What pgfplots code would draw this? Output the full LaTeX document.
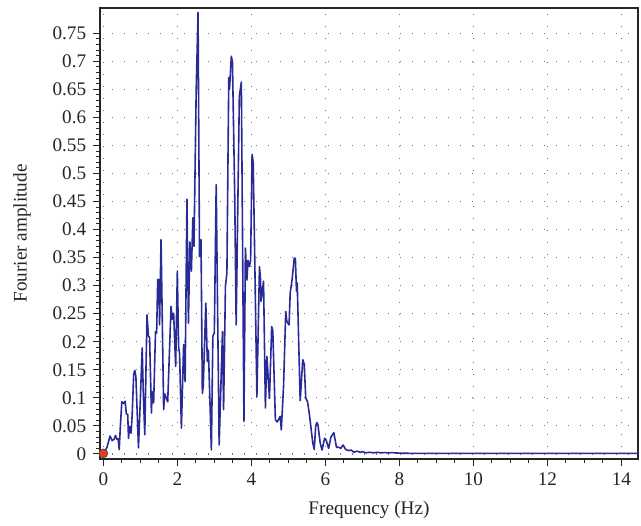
\documentclass[border=0pt]{standalone}
\usepackage{pgfplots}
\pgfplotsset{compat=1.18}
\usepackage{fontspec}
\setmainfont{Liberation Serif}
\definecolor{specblue}{RGB}{40,42,150}
\definecolor{dotred}{RGB}{230,60,30}
\begin{document}
\fontsize{9.6}{11.5}\selectfont
\begin{tikzpicture}
\begin{axis}[
  name=ax,
  scale only axis,
  width=269pt, height=225.5pt,
  xmin=-0.09, xmax=14.45,
  ymin=-0.009, ymax=0.795,
  xtick={0,2,4,6,8,10,12,14},
  minor x tick num=3,
  ytick={0,0.05,0.1,0.15,0.2,0.25,0.3,0.35,0.4,0.45,0.5,0.55,0.6,0.65,0.7,0.75},
  yticklabels={0,0.05,0.1,0.15,0.2,0.25,0.3,0.35,0.4,0.45,0.5,0.55,0.6,0.65,0.7,0.75},
  minor y tick num=4,
  tick align=outside,
  major tick length=3.5pt,
  minor tick length=2pt,
  xtick pos=bottom, ytick pos=left,
  /pgf/number format/assume math mode=true,
  tick label style={font=\fontsize{9.6}{11.5}\selectfont, text=black!85},
  label style={font=\fontsize{9.6}{11.5}\selectfont, text=black!85},
  axis line style={black!85, line width=0.6pt},
  every tick/.style={black!85, line width=0.5pt},
  grid=major,
  major grid style={gray!90!black, line width=0.55pt, dash pattern=on 0.55pt off 5.45pt},
  xlabel={Frequency (Hz)},
  ylabel={Fourier amplitude},
  xlabel style={at={(axis description cs:0.5,0)}, anchor=center, yshift=-25.5pt},
  ylabel style={at={(axis description cs:-0.145,0.5)}, anchor=center},
  clip=false,
]
\addplot[specblue, line width=0.8pt, line join=round, no marks] coordinates {
(0.02,0.002) (0.1,0.012) (0.18,0.032) (0.24,0.024) (0.29,0.026) (0.33,0.033)
(0.37,0.026) (0.40,0.027) (0.43,0.008) (0.46,0.049) (0.50,0.093) (0.55,0.09)
(0.59,0.094) (0.62,0.072) (0.66,0.07) (0.68,0.028) (0.71,0.049) (0.75,0.037)
(0.78,0.07) (0.82,0.141) (0.85,0.149) (0.88,0.138) (0.95,0.011) (1.0,0.096)
(1.05,0.189) (1.08,0.11) (1.12,0.034) (1.18,0.248) (1.22,0.21) (1.25,0.208)
(1.30,0.073) (1.32,0.111) (1.36,0.091) (1.41,0.218) (1.44,0.215) (1.47,0.311)
(1.50,0.311) (1.52,0.23) (1.56,0.382) (1.63,0.079) (1.66,0.107) (1.70,0.1)
(1.74,0.093) (1.83,0.263) (1.86,0.24) (1.90,0.251) (1.955,0.156) (2.0,0.326)
(2.035,0.19) (2.06,0.18) (2.11,0.046) (2.17,0.195) (2.21,0.129) (2.26,0.454)
(2.30,0.233) (2.34,0.378) (2.38,0.326) (2.42,0.421) (2.45,0.37) (2.51,0.65)
(2.56,0.787) (2.60,0.352) (2.64,0.382) (2.676,0.108) (2.70,0.12) (2.77,0.269)
(2.81,0.165) (2.84,0.185) (2.92,0.007) (2.96,0.21) (3.0,0.216) (3.05,0.48)
(3.13,0.016) (3.22,0.218) (3.25,0.079) (3.30,0.299) (3.34,0.323) (3.39,0.671)
(3.41,0.65) (3.46,0.709) (3.49,0.698) (3.55,0.466) (3.59,0.23) (3.676,0.638)
(3.73,0.663) (3.80,0.058) (3.84,0.367) (3.88,0.31) (3.91,0.345) (3.95,0.334)
(3.98,0.345) (4.02,0.534) (4.05,0.52) (4.08,0.4) (4.15,0.102) (4.22,0.334)
(4.25,0.31) (4.26,0.272) (4.33,0.308) (4.38,0.082) (4.42,0.174) (4.49,0.099)
(4.55,0.227) (4.58,0.22) (4.65,0.061) (4.70,0.057) (4.78,0.067) (4.81,0.043)
(4.87,0.12) (4.93,0.254) (4.96,0.236) (5.02,0.23) (5.05,0.287) (5.10,0.31)
(5.16,0.349) (5.19,0.349) (5.22,0.290) (5.24,0.305) (5.32,0.095) (5.39,0.168)
(5.43,0.16) (5.47,0.1) (5.52,0.093) (5.57,0.07) (5.66,0.02) (5.70,0.008)
(5.74,0.05) (5.77,0.056) (5.80,0.052) (5.86,0.02) (5.91,0.007) (5.98,0.028)
(6.02,0.025) (6.09,0.01) (6.15,0.03) (6.23,0.038) (6.30,0.012) (6.36,0.012)
(6.42,0.01) (6.48,0.016) (6.55,0.008) (6.63,0.006) (6.70,0.007) (6.77,0.003)
(6.85,0.005) (6.95,0.003) (7.0,0.004) (7.1,0.002) (7.2,0.003) (7.3,0.002)
(7.4,0.003) (7.5,0.002) (7.6,0.0025) (7.7,0.0018) (7.8,0.0025) (7.9,0.0018)
(8.1,0.0012) (9,0.001) (10,0.001) (11,0.001) (12,0.001) (13,0.001) (14.45,0.001)
};
\addplot[only marks, mark=*, mark size=2.2pt, mark options={fill=dotred, draw=black!70, line width=0.4pt}] coordinates {(0,0.001)};
\end{axis}
\pgfresetboundingbox
\path[use as bounding box] ([shift={(-50pt,-33pt)}]ax.south west) rectangle ([shift={(1.5pt,4pt)}]ax.north east);
\end{tikzpicture}
\end{document}
